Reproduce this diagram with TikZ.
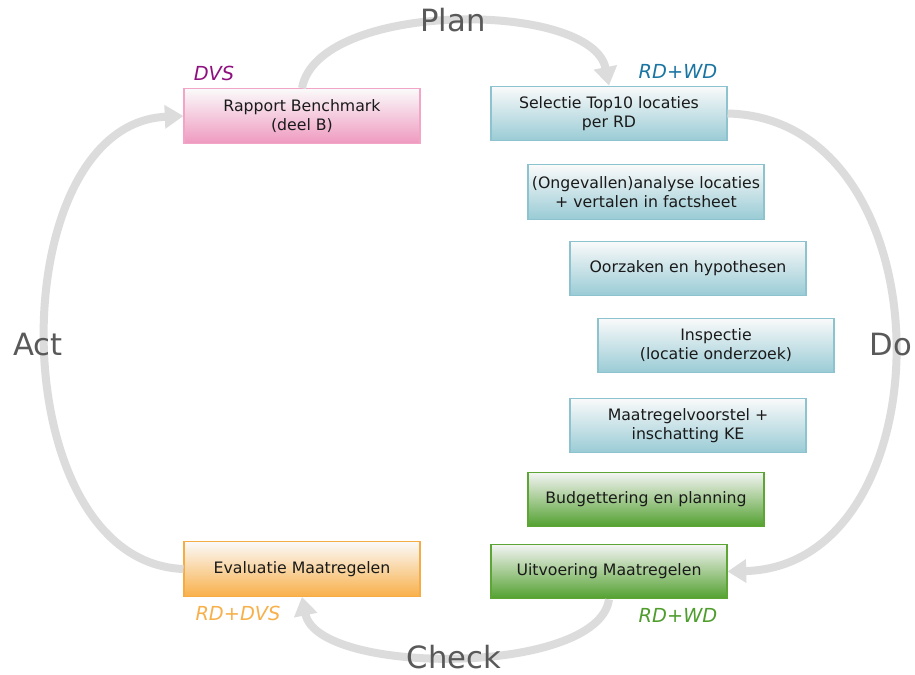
\documentclass[tikz,border=0pt]{standalone}
\usepackage{fontspec}
\setmainfont{DejaVu Sans}
\usetikzlibrary{arrows.meta}
\definecolor{arc}{HTML}{DCDCDC}
\definecolor{lbl}{HTML}{595959}
\definecolor{pinkC}{HTML}{EF9AC0}
\definecolor{pinkB}{HTML}{F2A5C6}
\definecolor{tealC}{HTML}{99CBD5}
\definecolor{tealB}{HTML}{8CC3CE}
\definecolor{greenC}{HTML}{52A02E}
\definecolor{greenB}{HTML}{5DA535}
\definecolor{orangeC}{HTML}{F9B04A}
\definecolor{orangeB}{HTML}{F6AC45}
\definecolor{dvsC}{HTML}{8E107F}
\definecolor{rdwdC}{HTML}{1B75A3}
\definecolor{rddvsC}{HTML}{F7B04A}
\definecolor{rdwdG}{HTML}{4F9D2D}
\definecolor{boxtext}{HTML}{1A1A1A}
\tikzset{
  stepbox/.style={rectangle, minimum width=177pt, minimum height=41pt, inner sep=0pt,
    align=center, text=boxtext, font=\fontsize{11.8}{14.3}\selectfont, line width=0.8pt},
  pinkbox/.style={stepbox, draw=pinkB, top color=white!96!gray, middle color=pinkC!75!white, bottom color=pinkC},
  tealbox/.style={stepbox, draw=tealB, top color=white!96!gray, middle color=tealC!75!white, bottom color=tealC},
  greenbox/.style={stepbox, draw=greenB, top color=white!92!gray, middle color=greenC!75!white, bottom color=greenC},
  orangebox/.style={stepbox, draw=orangeB, top color=white!96!gray, middle color=orangeC!75!white, bottom color=orangeC},
  cyclearrow/.style={draw=arc, line width=6pt, -{Triangle[length=14pt,width=17pt]}},
  phase/.style={text=lbl, font=\fontsize{23}{26}\selectfont, inner sep=0pt},
  who/.style={font=\fontsize{14.5}{17}\selectfont\itshape, inner sep=0pt}
}
\begin{document}
\begin{tikzpicture}[x=0.75pt,y=-0.75pt]
\fill[white] (0,0) rectangle (915,675);
\useasboundingbox (0,0) rectangle (915,675);

\node[pinkbox] (rap) at (302,116) {Rapport Benchmark\\(deel B)};
\node[tealbox] (sel) at (609,113.5) {Selectie Top10 locaties\\per RD};
\node[tealbox] (ong) at (646,192) {(Ongevallen)analyse locaties\\+ vertalen in factsheet};
\node[tealbox] (oor) at (688,268.5) {Oorzaken en hypothesen};
\node[tealbox] (ins) at (716,345.5) {Inspectie\\(locatie onderzoek)};
\node[tealbox] (maa) at (688,425.5) {Maatregelvoorstel +\\inschatting KE};
\node[greenbox] (bud) at (646,499.5) {Budgettering en planning};
\node[greenbox] (uit) at (609,571.5) {Uitvoering Maatregelen};
\node[orangebox] (eva) at (302,569) {Evaluatie Maatregelen};

\draw[cyclearrow] (rap.north) .. controls (318,0) and (592,0) .. (sel.north);
\draw[cyclearrow] (sel.east) .. controls (950,118) and (950,566) .. (uit.east);
\draw[cyclearrow] (uit.south) .. controls (598,676) and (318,676) .. (eva.south);
\draw[cyclearrow] (eva.west) .. controls (0,562) and (0,124) .. (rap.west);

\node[phase] (plan) at (453,20) {Plan};
\node[phase] (do) at (891,345) {Do};
\node[phase] (check) at (454,657) {Check};
\node[phase] (act) at (38,345) {Act};

\node[who, text=dvsC] (w1) at (214,73) {DVS};
\node[who, text=rdwdC] (w2) at (678,71) {RD+WD};
\node[who, text=rddvsC] (w3) at (238,613) {RD+DVS};
\node[who, text=rdwdG] (w4) at (678,615) {RD+WD};
\end{tikzpicture}
\end{document}
